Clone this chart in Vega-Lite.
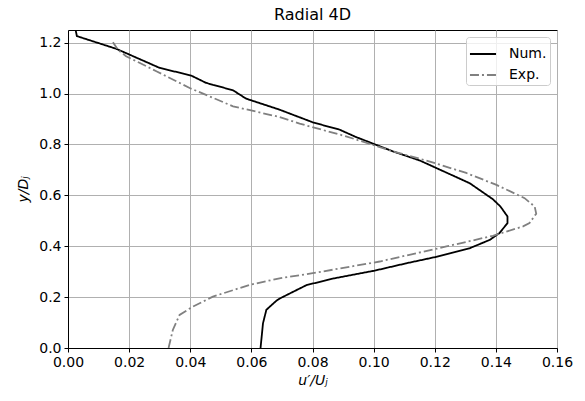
{
  "$schema": "https://vega.github.io/schema/vega-lite/v6.json",
  "width": 489,
  "height": 318,
  "autosize": "none",
  "padding": {"left": 68, "top": 30, "right": 28, "bottom": 53},
  "background": "white",
  "title": {"text": "Radial 4D", "font": "DejaVu Sans", "fontSize": 16, "fontWeight": "normal", "color": "black", "offset": 7},
  "config": {
    "font": "DejaVu Sans",
    "view": {"stroke": "black", "strokeWidth": 1},
    "axis": {
      "labelFont": "DejaVu Sans", "labelFontSize": 14, "labelColor": "black", "labelFlush": false, "labelOverlap": false,
      "titleFont": "DejaVu Sans", "titleFontSize": 14, "titleFontWeight": "normal", "titleFontStyle": "italic", "titleColor": "black",
      "gridColor": "#b0b0b0", "gridWidth": 1, "gridOpacity": 1,
      "tickColor": "black", "tickSize": 4, "domainColor": "black", "labelPadding": 3
    }
  },
  "data": {"values": [
    {"s": "Num.", "x": 0.0025, "y": 1.25},
    {"s": "Num.", "x": 0.0029, "y": 1.226},
    {"s": "Num.", "x": 0.0158, "y": 1.176},
    {"s": "Num.", "x": 0.030, "y": 1.101},
    {"s": "Num.", "x": 0.0403, "y": 1.071},
    {"s": "Num.", "x": 0.0452, "y": 1.042},
    {"s": "Num.", "x": 0.054, "y": 1.013},
    {"s": "Num.", "x": 0.0583, "y": 0.980},
    {"s": "Num.", "x": 0.0692, "y": 0.937},
    {"s": "Num.", "x": 0.0801, "y": 0.887},
    {"s": "Num.", "x": 0.0889, "y": 0.858},
    {"s": "Num.", "x": 0.0943, "y": 0.829},
    {"s": "Num.", "x": 0.1063, "y": 0.773},
    {"s": "Num.", "x": 0.1151, "y": 0.737},
    {"s": "Num.", "x": 0.1314, "y": 0.648},
    {"s": "Num.", "x": 0.139, "y": 0.585},
    {"s": "Num.", "x": 0.1415, "y": 0.556},
    {"s": "Num.", "x": 0.1438, "y": 0.517},
    {"s": "Num.", "x": 0.1438, "y": 0.491},
    {"s": "Num.", "x": 0.1412, "y": 0.452},
    {"s": "Num.", "x": 0.138, "y": 0.425},
    {"s": "Num.", "x": 0.1314, "y": 0.392},
    {"s": "Num.", "x": 0.120, "y": 0.357},
    {"s": "Num.", "x": 0.1107, "y": 0.333},
    {"s": "Num.", "x": 0.1003, "y": 0.304},
    {"s": "Num.", "x": 0.0867, "y": 0.273},
    {"s": "Num.", "x": 0.078, "y": 0.247},
    {"s": "Num.", "x": 0.0692, "y": 0.194},
    {"s": "Num.", "x": 0.0681, "y": 0.185},
    {"s": "Num.", "x": 0.0649, "y": 0.150},
    {"s": "Num.", "x": 0.0638, "y": 0.097},
    {"s": "Num.", "x": 0.063, "y": 0.0},
    {"s": "Exp.", "x": 0.0147, "y": 1.202},
    {"s": "Exp.", "x": 0.0163, "y": 1.173},
    {"s": "Exp.", "x": 0.019, "y": 1.147},
    {"s": "Exp.", "x": 0.0289, "y": 1.088},
    {"s": "Exp.", "x": 0.0398, "y": 1.022},
    {"s": "Exp.", "x": 0.054, "y": 0.950},
    {"s": "Exp.", "x": 0.0692, "y": 0.908},
    {"s": "Exp.", "x": 0.0758, "y": 0.882},
    {"s": "Exp.", "x": 0.091, "y": 0.832},
    {"s": "Exp.", "x": 0.1063, "y": 0.773},
    {"s": "Exp.", "x": 0.1184, "y": 0.733},
    {"s": "Exp.", "x": 0.1303, "y": 0.688},
    {"s": "Exp.", "x": 0.140, "y": 0.642},
    {"s": "Exp.", "x": 0.1494, "y": 0.589},
    {"s": "Exp.", "x": 0.1527, "y": 0.556},
    {"s": "Exp.", "x": 0.1532, "y": 0.528},
    {"s": "Exp.", "x": 0.151, "y": 0.491},
    {"s": "Exp.", "x": 0.1489, "y": 0.478},
    {"s": "Exp.", "x": 0.139, "y": 0.441},
    {"s": "Exp.", "x": 0.1238, "y": 0.399},
    {"s": "Exp.", "x": 0.102, "y": 0.340},
    {"s": "Exp.", "x": 0.0801, "y": 0.294},
    {"s": "Exp.", "x": 0.0692, "y": 0.274},
    {"s": "Exp.", "x": 0.0594, "y": 0.248},
    {"s": "Exp.", "x": 0.0474, "y": 0.202},
    {"s": "Exp.", "x": 0.0409, "y": 0.163},
    {"s": "Exp.", "x": 0.0365, "y": 0.130},
    {"s": "Exp.", "x": 0.0343, "y": 0.071},
    {"s": "Exp.", "x": 0.0329, "y": 0.0}
  ]},
  "mark": {"type": "line", "strokeWidth": 1.8, "clip": true},
  "encoding": {
    "x": {"field": "x", "type": "quantitative", "scale": {"domain": [0, 0.16], "nice": false, "zero": false},
      "axis": {"values": [0, 0.02, 0.04, 0.06, 0.08, 0.1, 0.12, 0.14, 0.16], "format": ".2f", "title": "u′/Uⱼ", "titlePadding": 4}},
    "y": {"field": "y", "type": "quantitative", "scale": {"domain": [0, 1.25], "nice": false, "zero": false},
      "axis": {"values": [0, 0.2, 0.4, 0.6, 0.8, 1.0, 1.2], "format": ".1f", "title": "y/Dⱼ", "titlePadding": 8}},
    "order": {"field": "y", "type": "quantitative"},
    "color": {"field": "s", "type": "nominal", "scale": {"domain": ["Num.", "Exp."], "range": ["black", "gray"]},
      "legend": {"title": null, "orient": "top-right", "offset": 7, "symbolType": "stroke", "symbolSize": 680, "symbolStrokeWidth": 1.8,
        "labelFontSize": 14, "labelColor": "black", "fillColor": "rgba(255,255,255,0.8)", "strokeColor": "#cccccc", "cornerRadius": 3, "padding": 3, "rowPadding": -4, "labelOffset": 12}},
    "strokeDash": {"field": "s", "type": "nominal", "scale": {"domain": ["Num.", "Exp."], "range": [[1, 0], [9, 3, 2, 3]]}, "legend": null}
  }
}
